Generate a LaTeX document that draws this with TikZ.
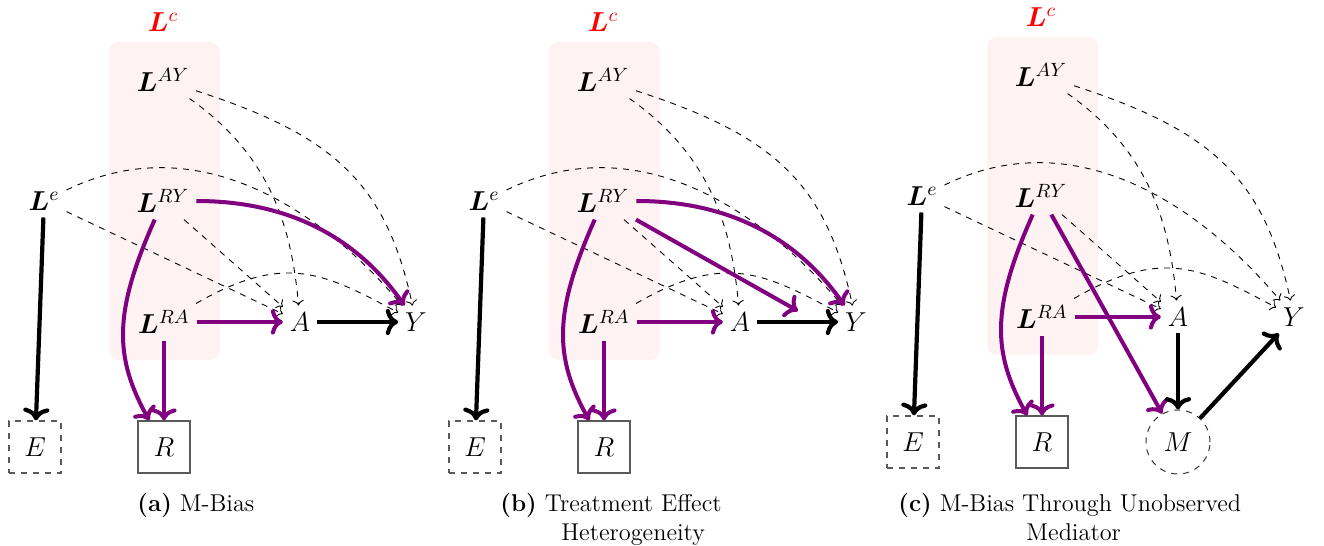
\RequirePackage{fix-cm}
\documentclass[tikz,border=0pt]{standalone}
\usepackage{amsmath,bm}
\usetikzlibrary{calc,arrows.meta}
\definecolor{dagpurple}{RGB}{128,0,128}
\definecolor{lcfill}{RGB}{254,242,242}
\tikzset{
  v/.style={font=\fontsize{13.7}{16}\selectfont},
  obs/.style={v, draw=black!65, line width=0.6pt, minimum width=26pt, minimum height=26pt, inner sep=0pt},
  unobsbox/.style={obs, dashed},
  unobscirc/.style={v, circle, draw=black!80, dashed, line width=0.5pt, minimum size=32pt, inner sep=0pt},
  dep/.style={-{Computer Modern Rightarrow[scale=1.05]}, dashed, line width=0.45pt},
  pstrong/.style={-{Computer Modern Rightarrow[scale=1.0]}, draw=dagpurple, line width=2pt},
  bstrong/.style={-{Computer Modern Rightarrow[scale=1.0]}, line width=2.1pt},
  lcbox/.style={fill=lcfill, rounded corners=5pt},
  captext/.style={font=\fontsize{12.15}{14.6}\selectfont, anchor=base west, inner sep=0pt},
}
\newcommand\dagbase{%
  \fill[lcbox] (109,-42) rectangle (220,-360);
  \node[v, text=red] (Lc) at (163,-22) {$\bm{L}^{c}$};
  \node[v] (LAY) at (163,-80) {$\bm{L}^{AY}$};
  \node[v] (Le) at (44,-201) {$\bm{L}^{e}$};
  \node[v] (LRY) at (163,-201) {$\bm{L}^{RY}$};
  \node[v] (LRA) at (164,-322) {$\bm{L}^{RA}$};
  \node[v] (A) at (300,-322) {$A$};
  \node[v] (Y) at (416,-322) {$Y$};
  \node[unobsbox] (E) at (35,-447) {$E$};
  \node[obs] (R) at (164,-447) {$R$};
  \draw[dep] (LAY) to[out=-35,in=95] (A);
  \draw[dep] (LAY) to[out=-18,in=102,looseness=1.15] (Y);
  \draw[dep] (Le) to[out=26,in=130,looseness=1.0] (Y);
  \draw[dep] (Le) -- (A);
  \draw[dep] (LRY) -- (A);
  \draw[dep] (LRA) to[out=30,in=152,looseness=1.2] (Y);
  \draw[pstrong] (LRY) to[out=-114,in=119,looseness=1.15] (R);
  \draw[pstrong] (LRA) -- (A);
  \draw[pstrong] (LRA) -- (R);
  \draw[bstrong] (Le) -- (E);
}
\begin{document}
\begin{tikzpicture}[x=0.5pt,y=0.5pt]
\useasboundingbox (0,0) rectangle (1324,-546);
% panel (a)
\begin{scope}[name prefix=a-]
  \dagbase
  \draw[pstrong] (LRY) to[out=0,in=125] (Y);
  \draw[bstrong] (A) -- (Y);
\end{scope}
% panel (b)
\begin{scope}[shift={(440,0)}, name prefix=b-]
  \dagbase
  \coordinate (AYm) at (358,-311);
  \draw[pstrong] (LRY) to[out=0,in=125] (Y);
  \draw[bstrong] (A) -- (Y);
  \draw[pstrong] (LRY) -- (AYm);
\end{scope}
% panel (c)
\begin{scope}[shift={(878,5)}, name prefix=c-]
  \dagbase
  \node[unobscirc] (M) at (300,-447) {$M$};
  \draw[pstrong] (LRY) -- (M);
  \draw[bstrong] (A) -- (M);
  \draw[bstrong] (M) -- (Y);
\end{scope}
% captions
\node[captext] (capa) at (137,-511) {\textbf{(a)} M-Bias};
\node[captext] (capb) at (500,-511) {\textbf{(b)} Treatment Effect};
\node[captext] (capb2) at (561,-540) {Heterogeneity};
\node[captext] (capc) at (898,-511) {\textbf{(c)} M-Bias Through Unobserved};
\node[captext] (capc2) at (1026,-540) {Mediator};
\end{tikzpicture}
\end{document}
